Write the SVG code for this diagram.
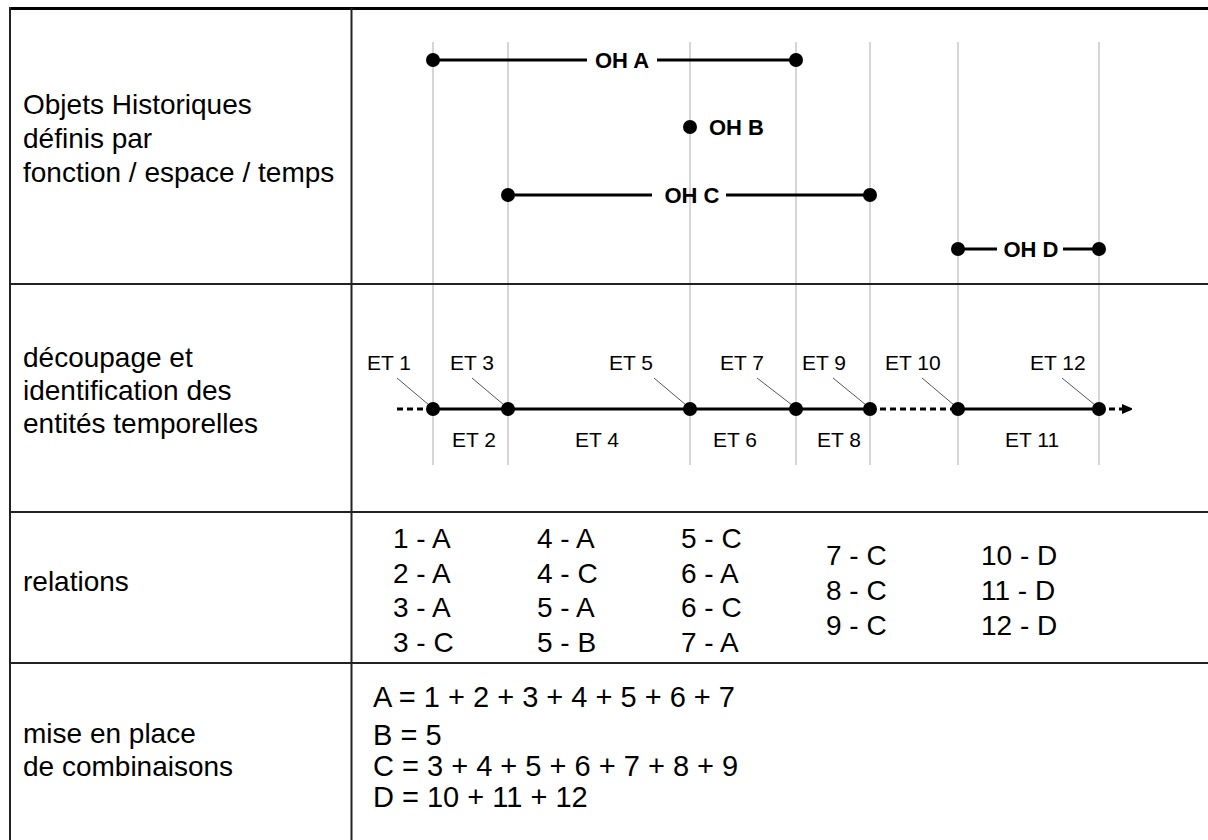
<svg xmlns="http://www.w3.org/2000/svg" width="1208" height="840" viewBox="0 0 1208 840">
<style>
text{font-family:"Liberation Sans",Arial,sans-serif;fill:#000}
.lab{font-size:28px}
.rel{font-size:28px}
.comb{font-size:29px}
.et{font-size:21px}
.oh{font-size:22px;font-weight:bold}
.grid{stroke:#c8c8c8;stroke-width:1.5}
.frame{stroke:#222;stroke-width:2;fill:none}
.seg{stroke:#000;stroke-width:3;fill:none}
.dash{stroke:#000;stroke-width:3;stroke-dasharray:6 4;fill:none}
.lead{stroke:#555;stroke-width:1}
</style>
<defs>
<marker id="arr" markerWidth="10" markerHeight="10" refX="0" refY="5" orient="auto" markerUnits="userSpaceOnUse">
<path d="M0,0 L12,5 L0,10 Z" fill="#000"/>
</marker>
</defs>
<rect x="0" y="0" width="1208" height="840" fill="#fff"/>
<g id="grid">
<line class="grid" x1="433" y1="42" x2="433" y2="465"/>
<line class="grid" x1="508" y1="42" x2="508" y2="465"/>
<line class="grid" x1="690" y1="42" x2="690" y2="465"/>
<line class="grid" x1="796" y1="42" x2="796" y2="465"/>
<line class="grid" x1="870" y1="42" x2="870" y2="465"/>
<line class="grid" x1="958" y1="42" x2="958" y2="465"/>
<line class="grid" x1="1099" y1="42" x2="1099" y2="465"/>
</g>
<g id="table">
<line x1="9" y1="8.5" x2="1208" y2="8.5" stroke="#000" stroke-width="3"/>
<line class="frame" x1="10" y1="7" x2="10" y2="840"/>
<line class="frame" x1="351.5" y1="8" x2="351.5" y2="840" stroke-width="1.5"/>
<line class="frame" x1="10" y1="284" x2="1208" y2="284"/>
<line class="frame" x1="10" y1="512" x2="1208" y2="512"/>
<line class="frame" x1="10" y1="663" x2="1208" y2="663"/>
</g>
<g id="row-labels">
<text class="lab" x="23" y="114">Objets Historiques</text>
<text class="lab" x="23" y="148">définis par</text>
<text class="lab" x="23" y="182">fonction / espace / temps</text>
<text class="lab" x="23" y="367">découpage et</text>
<text class="lab" x="23" y="400">identification des</text>
<text class="lab" x="23" y="433">entités temporelles</text>
<text class="lab" x="23" y="591">relations</text>
<text class="lab" x="23" y="743">mise en place</text>
<text class="lab" x="23" y="776">de combinaisons</text>
</g>
<g id="connectors">
<line class="seg" x1="433" y1="60" x2="587" y2="60"/>
<line class="seg" x1="657" y1="60" x2="796" y2="60"/>
<line class="seg" x1="508" y1="195" x2="652" y2="195"/>
<line class="seg" x1="726" y1="195" x2="870" y2="195"/>
<line class="seg" x1="958" y1="249" x2="997" y2="249"/>
<line class="seg" x1="1063" y1="249" x2="1099" y2="249"/>
<line class="dash" x1="397" y1="409" x2="433" y2="409"/>
<line class="seg" x1="433" y1="409" x2="870" y2="409"/>
<line class="dash" x1="870" y1="409" x2="958" y2="409"/>
<line class="seg" x1="958" y1="409" x2="1099" y2="409"/>
<line class="dash" x1="1099" y1="409" x2="1122" y2="409" marker-end="url(#arr)"/>
<line class="lead" x1="397" y1="378" x2="429" y2="405"/>
<line class="lead" x1="472" y1="378" x2="504" y2="405"/>
<line class="lead" x1="654" y1="378" x2="686" y2="405"/>
<line class="lead" x1="757" y1="378" x2="792" y2="405"/>
<line class="lead" x1="833" y1="378" x2="866" y2="405"/>
<line class="lead" x1="922" y1="378" x2="954" y2="405"/>
<line class="lead" x1="1062" y1="378" x2="1095" y2="405"/>
</g>
<g id="oh-A">
<circle cx="433" cy="60" r="7"/><circle cx="796" cy="60" r="7"/>
<text class="oh" x="622" y="68" text-anchor="middle">OH A</text>
</g>
<g id="oh-B">
<circle cx="690" cy="127" r="7"/>
<text class="oh" x="709" y="135">OH B</text>
</g>
<g id="oh-C">
<circle cx="508" cy="195" r="7"/><circle cx="870" cy="195" r="7"/>
<text class="oh" x="692" y="203" text-anchor="middle">OH C</text>
</g>
<g id="oh-D">
<circle cx="958" cy="249" r="7"/><circle cx="1099" cy="249" r="7"/>
<text class="oh" x="1031" y="257" text-anchor="middle">OH D</text>
</g>
<g id="timeline-points">
<circle cx="433" cy="409" r="7"/><circle cx="508" cy="409" r="7"/><circle cx="690" cy="409" r="7"/><circle cx="796" cy="409" r="7"/><circle cx="870" cy="409" r="7"/><circle cx="958" cy="409" r="7"/><circle cx="1099" cy="409" r="7"/>
</g>
<g id="et-labels">
<text class="et" x="367" y="370">ET 1</text>
<text class="et" x="450" y="370">ET 3</text>
<text class="et" x="609" y="370">ET 5</text>
<text class="et" x="720" y="370">ET 7</text>
<text class="et" x="802" y="370">ET 9</text>
<text class="et" x="885" y="370">ET 10</text>
<text class="et" x="1030" y="370">ET 12</text>
<text class="et" x="452" y="447">ET 2</text>
<text class="et" x="575" y="447">ET 4</text>
<text class="et" x="713" y="447">ET 6</text>
<text class="et" x="817" y="447">ET 8</text>
<text class="et" x="1005" y="447">ET 11</text>
</g>
<g id="relations">
<text class="rel" x="393" y="548">1 - A</text>
<text class="rel" x="393" y="583">2 - A</text>
<text class="rel" x="393" y="617">3 - A</text>
<text class="rel" x="393" y="652">3 - C</text>
<text class="rel" x="537" y="548">4 - A</text>
<text class="rel" x="537" y="583">4 - C</text>
<text class="rel" x="537" y="617">5 - A</text>
<text class="rel" x="537" y="652">5 - B</text>
<text class="rel" x="681" y="548">5 - C</text>
<text class="rel" x="681" y="583">6 - A</text>
<text class="rel" x="681" y="617">6 - C</text>
<text class="rel" x="681" y="652">7 - A</text>
<text class="rel" x="826" y="565">7 - C</text>
<text class="rel" x="826" y="600">8 - C</text>
<text class="rel" x="826" y="635">9 - C</text>
<text class="rel" x="981" y="565">10 - D</text>
<text class="rel" x="981" y="600">11 - D</text>
<text class="rel" x="981" y="635">12 - D</text>
</g>
<g id="combinaisons">
<text class="comb" x="373" y="707">A = 1 + 2 + 3 + 4 + 5 + 6 + 7</text>
<text class="comb" x="373" y="745">B = 5</text>
<text class="comb" x="373" y="776">C = 3 + 4 + 5 + 6 + 7 + 8 + 9</text>
<text class="comb" x="373" y="807">D = 10 + 11 + 12</text>
</g>
</svg>
